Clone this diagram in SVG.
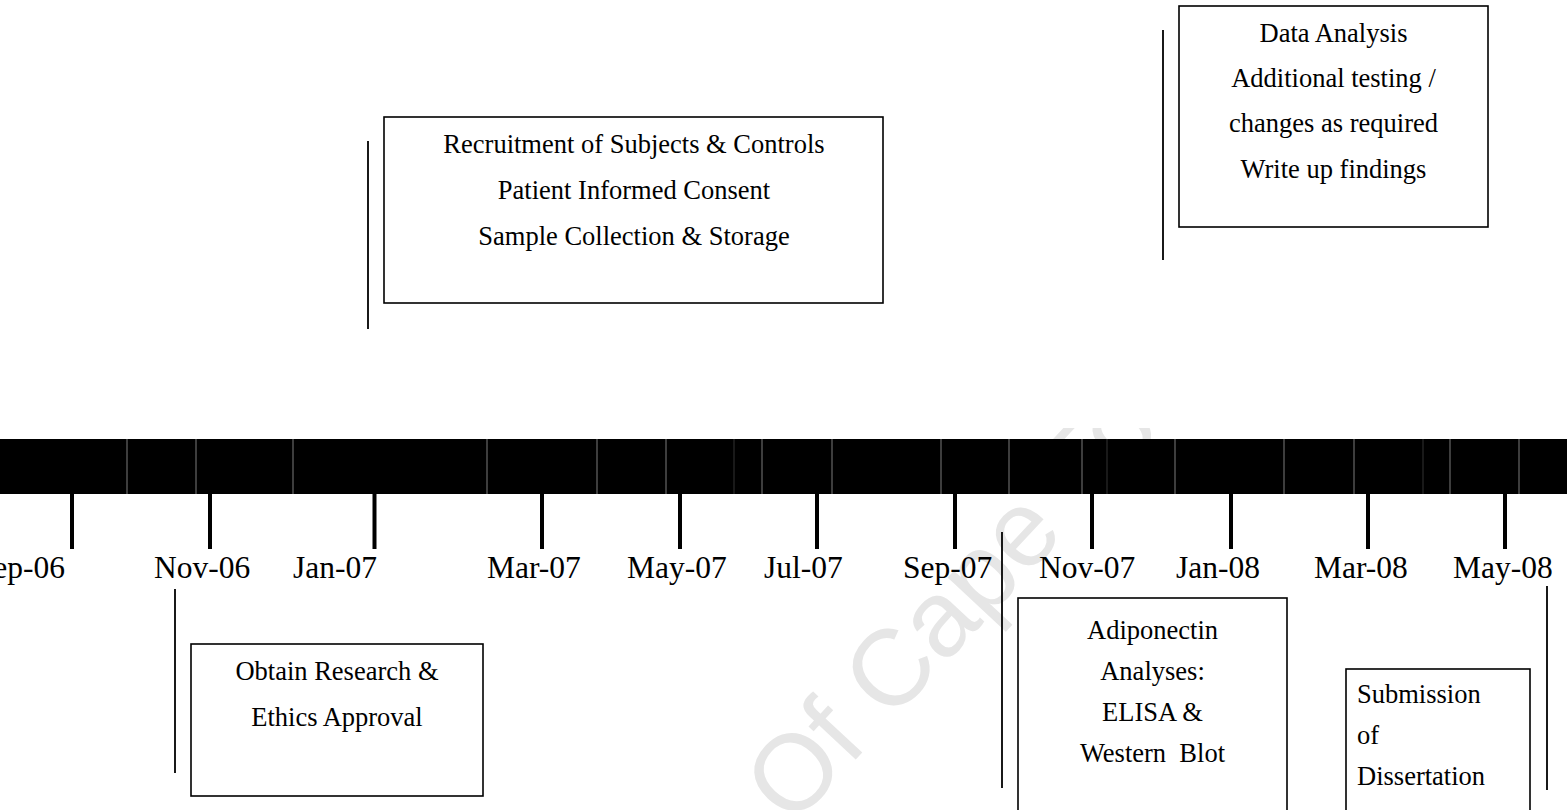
<svg xmlns="http://www.w3.org/2000/svg" width="1567" height="810" viewBox="0 0 1567 810">
<style>
.lbl{font-family:"Liberation Serif","Times New Roman",serif;font-size:31.5px;fill:#000}
.bt{font-family:"Liberation Serif","Times New Roman",serif;font-size:26.5px;fill:#000}
.box{fill:#fff;stroke:#000;stroke-width:1.6}
.vl{stroke:#000;stroke-width:1.8}
.sep{stroke:#7a7a7a;stroke-width:1}
.tick{fill:#000}
.wm{font-family:"Liberation Sans",Arial,sans-serif;font-size:108px;fill:#e6e6e6}
</style>
<defs>
<clipPath id="wmclip"><rect x="0" y="428" width="1567" height="382"/></clipPath>
</defs>
<rect width="1567" height="810" fill="#fff"/>
<g clip-path="url(#wmclip)">
<text class="wm" transform="translate(792,828) rotate(-47)">Of Cape Town</text>
</g>

<g id="timeline">
<rect x="0" y="439" width="1567" height="55" fill="#000"/>
<g class="sep">
<line x1="127" y1="439" x2="127" y2="494"/><line x1="196" y1="439" x2="196" y2="494"/>
<line x1="293" y1="439" x2="293" y2="494"/><line x1="487" y1="439" x2="487" y2="494"/>
<line x1="597" y1="439" x2="597" y2="494"/><line x1="666" y1="439" x2="666" y2="494"/>
<line x1="734" y1="439" x2="734" y2="494" stroke="#333"/><line x1="762" y1="439" x2="762" y2="494"/>
<line x1="832" y1="439" x2="832" y2="494"/><line x1="941" y1="439" x2="941" y2="494"/>
<line x1="1009" y1="439" x2="1009" y2="494"/><line x1="1082" y1="439" x2="1082" y2="494"/>
<line x1="1107" y1="439" x2="1107" y2="494" stroke="#333"/><line x1="1175" y1="439" x2="1175" y2="494"/>
<line x1="1284" y1="439" x2="1284" y2="494"/><line x1="1354" y1="439" x2="1354" y2="494"/>
<line x1="1423" y1="439" x2="1423" y2="494" stroke="#333"/><line x1="1450" y1="439" x2="1450" y2="494"/>
<line x1="1519" y1="439" x2="1519" y2="494"/>
</g>
<g class="tick">
<rect x="70" y="494" width="4" height="55"/><rect x="208" y="494" width="4" height="55"/>
<rect x="372.5" y="494" width="4" height="55"/><rect x="540" y="494" width="4" height="55"/>
<rect x="678" y="494" width="4" height="55"/><rect x="815" y="494" width="4" height="55"/>
<rect x="953" y="494" width="4" height="55"/><rect x="1090" y="494" width="4" height="55"/>
<rect x="1229" y="494" width="4" height="55"/><rect x="1366" y="494" width="4" height="55"/>
<rect x="1503" y="494" width="4" height="55"/>
</g>
<text class="lbl" x="65" y="578" text-anchor="end">Sep-06</text>
<text class="lbl" x="154" y="578">Nov-06</text>
<text class="lbl" x="293" y="578">Jan-07</text>
<text class="lbl" x="487" y="578">Mar-07</text>
<text class="lbl" x="627" y="578">May-07</text>
<text class="lbl" x="764" y="578">Jul-07</text>
<text class="lbl" x="903" y="578">Sep-07</text>
<text class="lbl" x="1039" y="578">Nov-07</text>
<text class="lbl" x="1176" y="578">Jan-08</text>
<text class="lbl" x="1314" y="578">Mar-08</text>
<text class="lbl" x="1453" y="578">May-08</text>
</g>

<g id="connectors">
<line class="vl" x1="368" y1="141" x2="368" y2="329"/>
<line class="vl" x1="1163" y1="30" x2="1163" y2="260"/>
<line class="vl" x1="175" y1="589" x2="175" y2="773"/>
<line class="vl" x1="1002" y1="532" x2="1002" y2="788"/>
<line class="vl" x1="1547" y1="586" x2="1547" y2="790"/>
</g>

<g id="recruitment">
<rect class="box" x="384" y="117" width="499" height="186"/>
<text class="bt" x="634" y="153" text-anchor="middle">Recruitment of Subjects &amp; Controls</text>
<text class="bt" x="634" y="199" text-anchor="middle">Patient Informed Consent</text>
<text class="bt" x="634" y="245" text-anchor="middle">Sample Collection &amp; Storage</text>
</g>

<g id="data-analysis">
<rect class="box" x="1179" y="6" width="309" height="221"/>
<text class="bt" x="1333.5" y="42" text-anchor="middle">Data Analysis</text>
<text class="bt" x="1333.5" y="87" text-anchor="middle">Additional testing /</text>
<text class="bt" x="1333.5" y="132" text-anchor="middle">changes as required</text>
<text class="bt" x="1333.5" y="178" text-anchor="middle">Write up findings</text>
</g>

<g id="ethics">
<rect class="box" x="191" y="644" width="292" height="152"/>
<text class="bt" x="337" y="680" text-anchor="middle">Obtain Research &amp;</text>
<text class="bt" x="337" y="726" text-anchor="middle">Ethics Approval</text>
</g>

<g id="adiponectin">
<rect class="box" x="1018" y="598" width="269" height="230"/>
<text class="bt" x="1152.5" y="639" text-anchor="middle">Adiponectin</text>
<text class="bt" x="1152.5" y="680" text-anchor="middle">Analyses:</text>
<text class="bt" x="1152.5" y="721" text-anchor="middle">ELISA &amp;</text>
<text class="bt" x="1152.5" y="762" text-anchor="middle" xml:space="preserve">Western  Blot</text>
</g>

<g id="submission">
<rect class="box" x="1346" y="669" width="184" height="160"/>
<text class="bt" x="1357" y="703">Submission</text>
<text class="bt" x="1357" y="744">of</text>
<text class="bt" x="1357" y="785">Dissertation</text>
</g>
</svg>
